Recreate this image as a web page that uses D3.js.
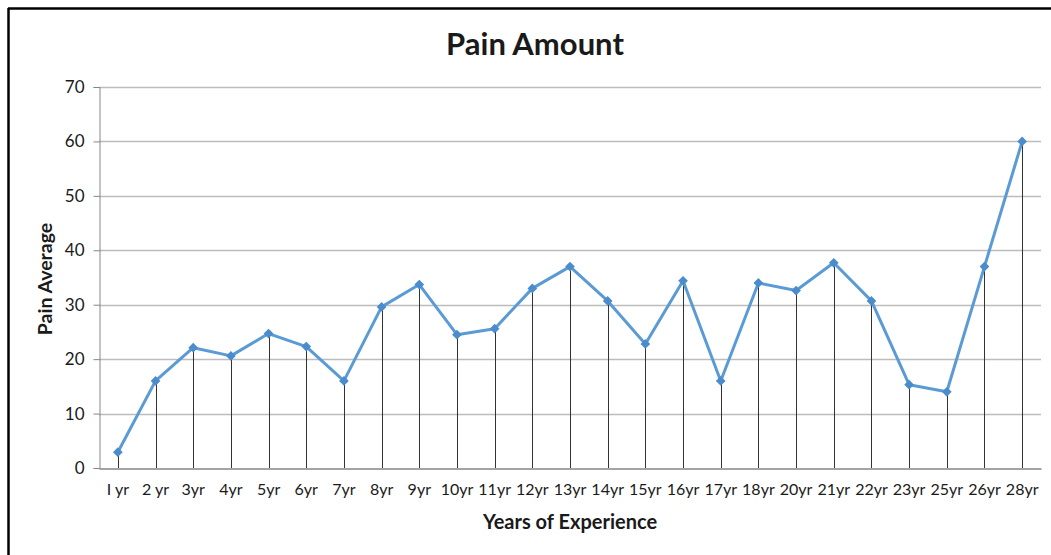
<!DOCTYPE html>
<html>
<head>
<meta charset="utf-8">
<script src="https://cdn.jsdelivr.net/npm/d3@7"></script>
<style>
    body { margin: 0; background: #fff; }
    text { font-family: Lato, "Open Sans", sans-serif; fill: #1a1a1a; }
</style>
</head>
<body>
<svg id="chart"></svg>
<script>
const years = ["I yr", "2 yr", "3yr", "4yr", "5yr", "6yr", "7yr", "8yr", "9yr", "10yr", "11yr", "12yr", "13yr",
    "14yr", "15yr", "16yr", "17yr", "18yr", "20yr", "21yr", "22yr", "23yr", "25yr", "26yr", "28yr"];
const painAverage = [2.9, 16, 22.1, 20.6, 24.7, 22.3, 16, 29.6, 33.7, 24.5, 25.6, 33, 37,
    30.7, 22.8, 34.4, 16, 34, 32.6, 37.7, 30.7, 15.3, 14, 37, 60];
const yTicks = [0, 10, 20, 30, 40, 50, 60, 70];

const width = 1051, height = 555;
const margin = { top: 87, right: 10, bottom: 87, left: 99 };

const svg = d3.select("#chart")
    .attr("width", width)
    .attr("height", height);

// frame (only top and left edges show in the original)
svg.append("line").attr("x1", 8).attr("x2", width).attr("y1", 8.5).attr("y2", 8.5)
    .attr("stroke", "#000").attr("stroke-width", 2.5);
svg.append("line").attr("x1", 8.5).attr("x2", 8.5).attr("y1", 8).attr("y2", height)
    .attr("stroke", "#000").attr("stroke-width", 2.5);

const x = d3.scaleBand()
    .domain(years)
    .range([margin.left, width - margin.right]);

const y = d3.scaleLinear()
    .domain([0, 70])
    .range([height - margin.bottom, margin.top]);

// gridlines
svg.append("g")
    .selectAll("line")
    .data(yTicks.filter(d => d > 0))
    .join("line")
    .attr("x1", margin.left)
    .attr("x2", width - margin.right)
    .attr("y1", d => Math.round(y(d)) + 0.5)
    .attr("y2", d => Math.round(y(d)) + 0.5)
    .attr("stroke", "#bcbcbc")
    .attr("stroke-width", 1.5);

// y axis
const yAxis = svg.append("g")
    .attr("transform", `translate(${margin.left + 0.5}, 0)`)
    .call(d3.axisLeft(y).tickValues(yTicks).tickSize(6).tickPadding(9));
yAxis.select(".domain").attr("stroke", "#868686");
yAxis.selectAll(".tick line").attr("stroke", "#868686");
yAxis.selectAll(".tick text").attr("font-size", 17).attr("fill", "#333")
    .style("font-family", "Lato, sans-serif");

// drop lines
svg.append("g")
    .selectAll("line")
    .data(painAverage)
    .join("line")
    .attr("x1", (d, i) => Math.round(x(years[i]) + x.bandwidth() / 2) + 0.5)
    .attr("x2", (d, i) => Math.round(x(years[i]) + x.bandwidth() / 2) + 0.5)
    .attr("y1", d => y(d))
    .attr("y2", y(0))
    .attr("stroke", "#333")
    .attr("stroke-width", 1);

// x axis
const xAxis = svg.append("g")
    .attr("transform", `translate(0, ${Math.round(y(0)) + 0.5})`)
    .call(d3.axisBottom(x).tickSize(0).tickPadding(15).tickSizeOuter(0));
xAxis.select(".domain").attr("stroke", "#868686").attr("stroke-width", 1.5);
xAxis.selectAll(".tick text").attr("font-size", 16).attr("fill", "#333")
    .style("font-family", "Lato, sans-serif");

// line + markers
const line = d3.line()
    .x((d, i) => x(years[i]) + x.bandwidth() / 2)
    .y(d => y(d));

svg.append("path")
    .datum(painAverage)
    .attr("d", line)
    .attr("fill", "none")
    .attr("stroke", "#5b9bd5")
    .attr("stroke-width", 3)
    .attr("stroke-linejoin", "round");

svg.append("g")
    .selectAll("path")
    .data(painAverage)
    .join("path")
    .attr("d", d3.symbol(d3.symbolDiamond2, 60))
    .attr("transform", (d, i) => `translate(${x(years[i]) + x.bandwidth() / 2}, ${y(d)})`)
    .attr("fill", "#4a8ccc");

// titles
svg.append("text")
    .attr("x", 535)
    .attr("y", 55)
    .attr("text-anchor", "middle")
    .attr("font-size", 31)
    .attr("font-weight", "bold")
    .attr("fill", "#000")
    .text("Pain Amount");

svg.append("text")
    .attr("x", (margin.left + width - margin.right) / 2)
    .attr("y", 529)
    .attr("text-anchor", "middle")
    .attr("font-size", 20)
    .attr("font-weight", "bold")
    .text("Years of Experience");

svg.append("text")
    .attr("transform", `translate(52, 279) rotate(-90)`)
    .attr("text-anchor", "middle")
    .attr("font-size", 19.5)
    .attr("font-weight", "bold")
    .text("Pain Average");
</script>
</body>
</html>
